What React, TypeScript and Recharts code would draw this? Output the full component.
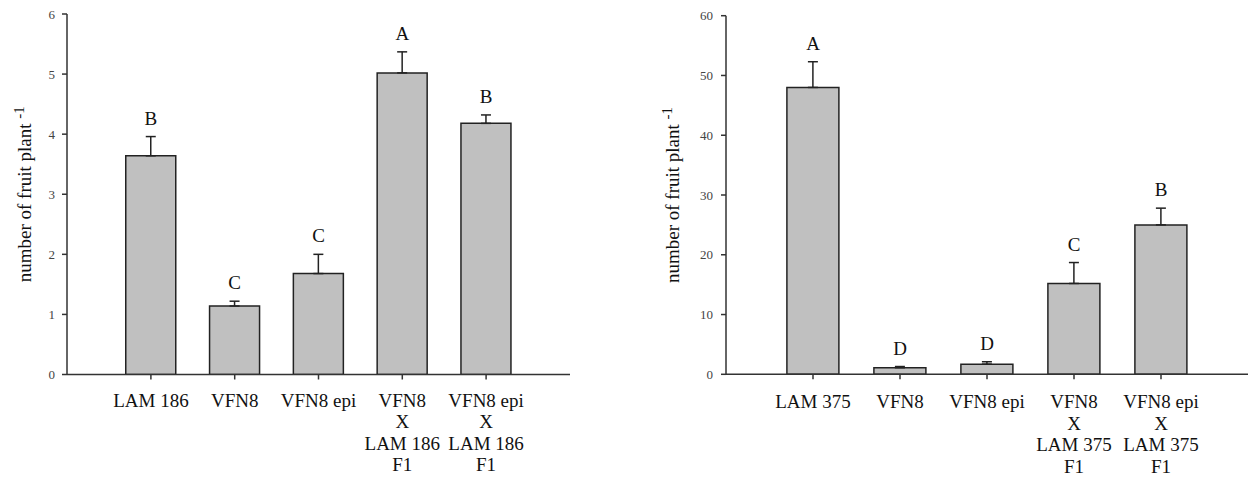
import React from 'react';
import { ComposedChart, Bar, Line, XAxis, YAxis, ErrorBar, LabelList } from 'recharts';

const leftGroups = ['LAM 186', 'VFN8', 'VFN8 epi', 'VFN8\nX\nLAM 186\nF1', 'VFN8 epi\nX\nLAM 186\nF1'];
const leftMeans = [3.64, 1.14, 1.68, 5.02, 4.18];
const leftErrors = [0.32, 0.08, 0.32, 0.35, 0.14];
const leftLetters = ['B', 'C', 'C', 'A', 'B'];
const leftTicks = [0, 1, 2, 3, 4, 5, 6];

const rightGroups = ['LAM 375', 'VFN8', 'VFN8 epi', 'VFN8\nX\nLAM 375\nF1', 'VFN8 epi\nX\nLAM 375\nF1'];
const rightMeans = [48.0, 1.1, 1.7, 15.2, 25.0];
const rightErrors = [4.3, 0.2, 0.4, 3.5, 2.8];
const rightLetters = ['A', 'D', 'D', 'C', 'B'];
const rightTicks = [0, 10, 20, 30, 40, 50, 60];

const SERIF = "'Liberation Serif', 'Times New Roman', serif";
const AXIS = '#333';

function buildRows(groups: string[], means: number[], errors: number[], letters: string[]) {
  return groups.map((g, i) => ({
    name: g,
    mean: means[i],
    err: [0, errors[i]],
    top: means[i] + errors[i],
    letter: letters[i],
  }));
}

function MultiTick({ x, y, payload, firstDy }: any) {
  const lines = String(payload.value).split('\n');
  return (
    <text x={x} y={y} textAnchor="middle" style={{ fontFamily: SERIF, fontSize: 19 }} fill="#111">
      {lines.map((l, i) => (
        <tspan key={i} x={x} dy={i === 0 ? firstDy : 21.5}>{l}</tspan>
      ))}
    </text>
  );
}

function YTick({ x, y, payload }: any) {
  return (
    <text x={x} y={y} dy={4.5} textAnchor="end" style={{ fontFamily: SERIF, fontSize: 13 }} fill="#444">
      {payload.value}
    </text>
  );
}

function Letter({ x, y, value }: any) {
  return (
    <text x={x} y={y - 12} textAnchor="middle" style={{ fontFamily: SERIF, fontSize: 19 }} fill="#111">
      {value}
    </text>
  );
}

function YTitle({ viewBox, baseX }: any) {
  const cx = viewBox.x + baseX;
  const cy = viewBox.y + viewBox.height / 2;
  return (
    <text
      x={cx}
      y={cy}
      transform={`rotate(-90, ${cx}, ${cy})`}
      textAnchor="middle"
      style={{ fontFamily: SERIF, fontSize: 19 }}
      fill="#111"
    >
      number of fruit plant <tspan style={{ fontSize: 15 }} dy={-7}>-1</tspan>
    </text>
  );
}

type PanelProps = {
  rows: any[];
  yMax: number;
  ticks: number[];
  width: number;
  left: number;
  margin: { top: number; right: number; bottom: number; left: number };
  yWidth: number;
  pad: number;
  firstDy: number;
  titleX: number;
  tickMargin: number;
};

function Panel({ rows, yMax, ticks, width, left, margin, yWidth, pad, firstDy, titleX, tickMargin }: PanelProps) {
  return (
    <div style={{ position: 'absolute', left, top: 0 }}>
      <ComposedChart width={width} height={477} data={rows} margin={margin} barCategoryGap="20%">
        <XAxis
          dataKey="name"
          height={90}
          padding={{ left: pad, right: pad }}
          interval={0}
          stroke={AXIS}
          strokeWidth={1.5}
          tickSize={5}
          tickLine={{ stroke: AXIS, strokeWidth: 1.5 }}
          tick={<MultiTick firstDy={firstDy} />}
        />
        <XAxis xAxisId="top" dataKey="name" orientation="top" height={0} tick={false} tickLine={false} stroke={AXIS} strokeWidth={1.5} />
        <YAxis
          domain={[0, yMax]}
          ticks={ticks}
          width={yWidth}
          stroke={AXIS}
          strokeWidth={1.5}
          tickSize={5}
          tickMargin={tickMargin}
          tick={<YTick />}
          label={{ content: (p: any) => <YTitle {...p} baseX={titleX} /> }}
          allowDataOverflow
        />
        <YAxis yAxisId="right" orientation="right" width={0} tick={false} tickLine={false} stroke={AXIS} strokeWidth={1.5} />
        <Bar dataKey="mean" fill="#c0c0c0" stroke="#222" strokeWidth={1.5} isAnimationActive={false}>
          <ErrorBar dataKey="err" width={5} stroke="#222" strokeWidth={1.5} direction="y" />
        </Bar>
        <Line dataKey="top" stroke="none" dot={false} activeDot={false} isAnimationActive={false}>
          <LabelList dataKey="letter" content={<Letter />} />
        </Line>
      </ComposedChart>
    </div>
  );
}

export default function App() {
  const leftRows = buildRows(leftGroups, leftMeans, leftErrors, leftLetters);
  const rightRows = buildRows(rightGroups, rightMeans, rightErrors, rightLetters);
  return (
    <div style={{ position: 'absolute', left: 0, top: 0, width: 1250, height: 477, background: '#fff' }}>
      <Panel
        rows={leftRows}
        yMax={6}
        ticks={leftTicks}
        width={640}
        left={0}
        margin={{ top: 14, right: 70, bottom: 12.5, left: 0 }}
        yWidth={67}
        pad={42}
        firstDy={25}
        titleX={31}
        tickMargin={7}
      />
      <Panel
        rows={rightRows}
        yMax={60}
        ticks={rightTicks}
        width={610}
        left={640}
        margin={{ top: 15.7, right: 2, bottom: 12.7, left: 0 }}
        yWidth={86}
        pad={43.5}
        firstDy={27}
        titleX={39}
        tickMargin={8}
      />
    </div>
  );
}
